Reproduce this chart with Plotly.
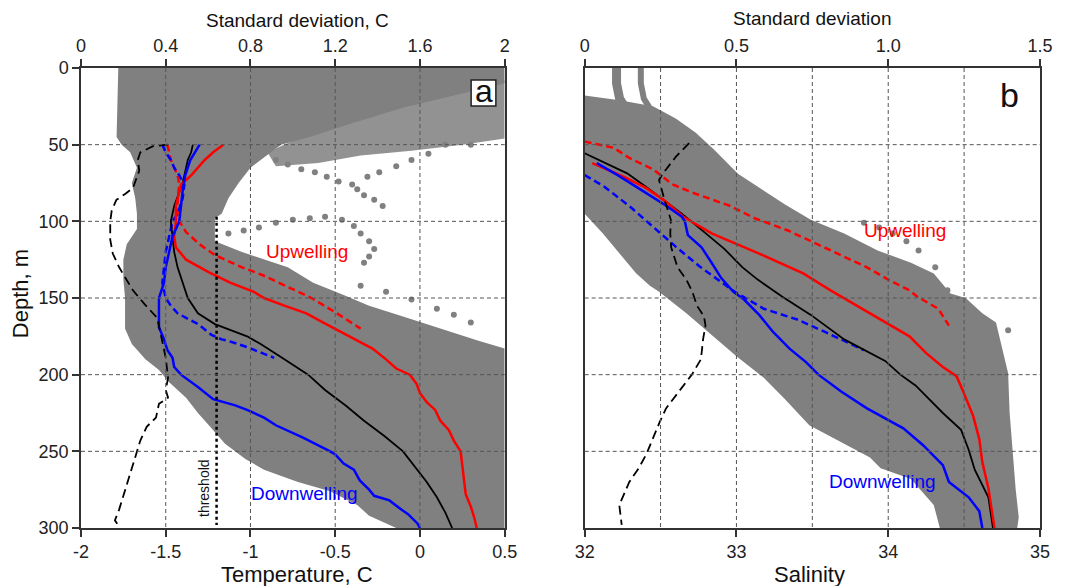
import plotly.graph_objects as go

FONT = "Liberation Sans, Arial, sans-serif"
GRAY = "rgb(128,128,128)"
RED = "#ff0000"
BLUE = "#0000ff"
BLACK = "#000000"

# ---------------- axis ticks ----------------
temp_ticks = [-2, -1.5, -1, -0.5, 0, 0.5]
temp_ticktext = ["-2", "-1.5", "-1", "-0.5", "0", "0.5"]
std_a_ticks = [0, 0.4, 0.8, 1.2, 1.6, 2]
std_a_ticktext = ["0", "0.4", "0.8", "1.2", "1.6", "2"]
sal_ticks = [32, 33, 34, 35]
sal_ticktext = ["32", "33", "34", "35"]
std_b_ticks = [0, 0.5, 1.0, 1.5]
std_b_ticktext = ["0", "0.5", "1.0", "1.5"]
depth_ticks = [0, 50, 100, 150, 200, 250, 300]
temp_grid = [-1.5, -1, -0.5, 0]
sal_grid = [32.5, 33, 33.5, 34, 34.5]
depth_grid = [50, 100, 150, 200, 250]

# ---------------- panel a : temperature ----------------
# gray cloud of all profiles (outline of the dense part)
cloud_a_T = [-1.78, 0.5, 0.5, 0.2, -0.1, -0.4, -0.65, -0.82, -0.88, -1.0, -1.07, -1.13, -1.17,
             -1.21, -1.21, -1.05, -0.78, -0.63, -0.45, -0.30, -0.10, 0.15, 0.35, 0.5, 0.5,
             -0.14, -0.30, -0.37, -0.53, -0.72, -0.92, -1.03, -1.15, -1.23, -1.31, -1.38,
             -1.48, -1.54, -1.62, -1.70, -1.74, -1.74, -1.75, -1.75, -1.73, -1.67, -1.67,
             -1.68, -1.70, -1.67, -1.71, -1.76, -1.79]
cloud_a_D = [0, 0, 10, 18, 26, 36, 45, 50, 55, 65, 75, 85, 95,
             98, 113, 120, 130, 140, 148, 155, 162, 171, 178, 183, 300,
             300, 292, 285, 276, 270, 262, 255, 245, 235, 225, 215,
             205, 197, 190, 180, 170, 150, 138, 125, 115, 105, 95,
             85, 75, 65, 55, 50, 45]
# sparse, speckled upper-right part
halo_a_T = [0.2, 0.5, 0.5, 0.25, -0.05, -0.35, -0.6, -0.85, -0.9, -0.7, -0.4, -0.1]
halo_a_D = [16, 8, 46, 50, 54, 57, 62, 64, 55, 45, 34, 24]
# isolated dotted profiles inside the gap
dots1_T = [0.30, 0.15, 0.05, -0.05, -0.14, -0.24, -0.31, -0.37, -0.33, -0.27, -0.22]
dots1_D = [50, 50, 56, 60, 64, 68, 71, 79, 83, 86, 90]
dots2_T = [-1.13, -1.04, -0.95, -0.85, -0.75, -0.65, -0.56, -0.46]
dots2_D = [108, 106, 104, 101, 99, 98, 97, 99]
dots3_T = [-0.39, -0.35, -0.30, -0.27, -0.30, -0.33]
dots3_D = [103, 108, 113, 118, 123, 127]
dots4_T = [-0.35, -0.2, -0.05, 0.1, 0.2, 0.3]
dots4_D = [142, 146, 151, 157, 161, 166]
dots5_T = [-0.85, -0.78, -0.70, -0.62, -0.55, -0.48, -0.40]
dots5_D = [60, 63, 66, 68, 71, 74, 76]

# mean profiles
mean_D = [50, 55, 60, 75, 90, 100, 110, 120, 130, 140, 150, 160, 167, 175, 180, 190, 200,
          210, 220, 230, 240, 250, 260, 270, 280, 290, 300]
mean_T = [-1.34, -1.35, -1.37, -1.40, -1.45, -1.47, -1.46, -1.45, -1.43, -1.40, -1.37, -1.31,
          -1.21, -1.02, -0.94, -0.80, -0.66, -0.56, -0.44, -0.33, -0.21, -0.10, -0.03, 0.04,
          0.10, 0.15, 0.19]

up_D = [50, 55, 60, 65, 70, 76, 90, 100, 110, 117, 125, 133, 140, 146, 150, 155, 160, 166, 172,
        178, 183, 190, 196, 200, 206, 212, 218, 223, 230, 236, 243, 250, 260, 269, 278, 286,
        293, 300]
up_T = [-1.16, -1.22, -1.27, -1.31, -1.35, -1.41, -1.44, -1.44, -1.45, -1.44, -1.38, -1.25,
        -1.12, -0.98, -0.92, -0.80, -0.67, -0.57, -0.47, -0.37, -0.28, -0.20, -0.14, -0.06,
        -0.02, 0.0, 0.04, 0.09, 0.12, 0.17, 0.20, 0.24, 0.25, 0.26, 0.27, 0.30, 0.32, 0.335]

up_d_D = [50, 55, 60, 65, 70, 76, 85, 95, 100, 107, 115, 122, 130, 135, 140, 150, 160, 170]
up_d_T = [-1.49, -1.48, -1.47, -1.45, -1.43, -1.42, -1.43, -1.43, -1.42, -1.38, -1.30, -1.21,
          -1.05, -0.93, -0.83, -0.64, -0.49, -0.35]

down_D = [50, 55, 60, 70, 80, 90, 100, 110, 120, 130, 140, 147, 150, 160, 169, 177, 184, 189,
          195, 200, 204, 208, 216, 220, 223, 228, 233, 241, 250, 252, 258, 262, 269, 275, 279,
          282, 288, 291, 297, 300]
down_T = [-1.30, -1.33, -1.355, -1.385, -1.40, -1.41, -1.42, -1.46, -1.48, -1.50, -1.51, -1.53,
          -1.54, -1.54, -1.54, -1.51, -1.49, -1.46, -1.45, -1.41, -1.36, -1.31, -1.22, -1.09,
          -1.02, -0.92, -0.85, -0.69, -0.53, -0.50, -0.45, -0.39, -0.355, -0.30, -0.27, -0.18,
          -0.11, -0.07, -0.015, 0.0]

down_d_D = [50, 55, 60, 65, 70, 76, 85, 95, 100, 110, 120, 130, 140, 150, 155, 160, 167, 174,
            177, 178, 182, 186, 189]
down_d_T = [-1.52, -1.50, -1.47, -1.45, -1.42, -1.39, -1.40, -1.43, -1.46, -1.48, -1.50, -1.51,
            -1.52, -1.50, -1.47, -1.43, -1.31, -1.23, -1.17, -1.13, -1.02, -0.93, -0.86]

std_a_D = [50, 51, 55, 60, 67, 73, 78, 82, 86, 93, 100, 112, 121, 130, 137, 145, 154, 163, 178,
           189, 202, 210, 215, 219, 228, 234, 243, 249, 262, 275, 288, 295, 299]
std_a = [0.41, 0.34, 0.28, 0.268, 0.275, 0.26, 0.246, 0.21, 0.167, 0.145, 0.138, 0.138, 0.15,
         0.18, 0.21, 0.245, 0.30, 0.36, 0.383, 0.40, 0.411, 0.40, 0.411, 0.368, 0.354, 0.31,
         0.28, 0.267, 0.24, 0.21, 0.18, 0.16, 0.18]

threshold_T = [-1.2, -1.2]
threshold_D = [97, 298]

# ---------------- panel b : salinity ----------------
cloud_b_S = [32.0, 32.23, 32.45, 32.60, 32.73, 32.85, 33.01, 33.15, 33.32, 33.49, 33.71, 33.93,
             34.15, 34.30, 34.41, 34.51, 34.62, 34.71, 34.75, 34.79, 34.80, 34.82, 34.84, 34.86,
             34.85, 34.34, 34.30, 34.15, 33.95, 33.88, 33.71, 33.48, 33.32, 33.18, 33.0, 32.80,
             32.67, 32.49, 32.43, 32.34, 32.23, 32.12, 32.0]
cloud_b_D = [18, 21, 25, 33, 42, 53, 69, 78, 89, 99, 108, 119,
             127, 134, 147, 150, 160, 166, 182, 199, 225, 250, 275, 293,
             300, 300, 285, 268, 261, 254, 245, 233, 216, 202, 188, 171,
             160, 146, 142, 134, 121, 108, 95]
streak1_S = [32.21, 32.21, 32.23, 32.28]
streak1_D = [0, 10, 20, 28]
streak2_S = [32.37, 32.37, 32.39, 32.44]
streak2_D = [0, 10, 20, 28]
dots_b_S = [33.84, 33.94, 34.03, 34.12, 34.20, 34.31, 34.39, 34.60, 34.68, 34.79]
dots_b_D = [101, 104, 108, 113, 119, 130, 145, 167, 169, 171]

mean_b_D = [55.6, 62, 68.7, 78, 86, 95, 108, 118, 130, 138, 149, 161, 177, 191, 200, 207, 214,
            225, 236, 249, 262, 280, 300]
mean_b_S = [32.0, 32.14, 32.28, 32.41, 32.52, 32.64, 32.80, 32.92, 33.04, 33.14, 33.30, 33.49,
            33.71, 33.98, 34.08, 34.18, 34.25, 34.36, 34.48, 34.53, 34.57, 34.66, 34.69]

up_b_D = [62, 71, 78, 86, 97, 108, 121, 134, 145, 153, 162, 175, 186, 195, 201, 210, 227, 242,
          257, 274, 287, 300]
up_b_S = [32.05, 32.26, 32.40, 32.52, 32.65, 32.84, 33.15, 33.44, 33.62, 33.76, 33.92, 34.14,
          34.25, 34.36, 34.45, 34.49, 34.56, 34.60, 34.62, 34.66, 34.68, 34.70]

up_b_d_D = [48, 52, 59, 66, 76, 82, 90, 98, 106, 116, 130, 138, 145, 149, 157, 168]
up_b_d_S = [32.0, 32.19, 32.30, 32.45, 32.58, 32.73, 32.96, 33.12, 33.34, 33.56, 33.86, 34.0,
            34.14, 34.19, 34.33, 34.40]

down_b_D = [62, 70, 80, 90, 97, 100, 109, 117, 126, 137, 146, 151, 161, 172, 183, 192, 200, 211,
            222, 235, 246, 259, 270, 280, 289, 300]
down_b_S = [32.08, 32.22, 32.38, 32.54, 32.64, 32.66, 32.68, 32.77, 32.83, 32.90, 32.98, 33.05,
            33.15, 33.24, 33.35, 33.46, 33.54, 33.69, 33.86, 34.10, 34.23, 34.36, 34.40, 34.53,
            34.60, 34.62]

down_b_d_D = [69.8, 77.4, 90.5, 103.5, 116.5, 129.6, 140.5, 146, 157, 164, 172, 180, 184]
down_b_d_S = [32.0, 32.13, 32.30, 32.45, 32.60, 32.76, 32.91, 32.99, 33.18, 33.40, 33.58, 33.76,
              33.84]

std_b_D = [49, 58, 69, 73, 86, 99, 108, 117, 130, 138, 146, 155, 162, 168, 177, 190, 200, 211,
           222, 231, 241, 252, 261, 270, 285, 298]
std_b = [0.344, 0.30, 0.257, 0.245, 0.263, 0.284, 0.282, 0.285, 0.306, 0.335, 0.355, 0.37,
         0.393, 0.398, 0.39, 0.383, 0.353, 0.31, 0.268, 0.247, 0.225, 0.203, 0.178, 0.147,
         0.114, 0.122]

# ---------------- figure ----------------
fig = go.Figure()


def poly(x, y, xa, ya, color):
    fig.add_trace(go.Scatter(x=x, y=y, xaxis=xa, yaxis=ya, mode="lines", fill="toself",
                             fillcolor=color, line=dict(width=0, color=color),
                             hoverinfo="skip", showlegend=False))


def dots(x, y, xa, ya):
    fig.add_trace(go.Scatter(x=x, y=y, xaxis=xa, yaxis=ya, mode="markers",
                             marker=dict(size=6, color=GRAY), hoverinfo="skip",
                             showlegend=False))


def line(x, y, xa, ya, color, width, dash="solid"):
    fig.add_trace(go.Scatter(x=x, y=y, xaxis=xa, yaxis=ya, mode="lines",
                             line=dict(color=color, width=width, dash=dash),
                             hoverinfo="skip", showlegend=False))


# panel a
poly(cloud_a_T, cloud_a_D, "x", "y", GRAY)
poly(halo_a_T, halo_a_D, "x", "y", "rgba(128,128,128,0.86)")
for tx, dy in [(dots1_T, dots1_D), (dots2_T, dots2_D), (dots3_T, dots3_D), (dots4_T, dots4_D),
               (dots5_T, dots5_D)]:
    dots(tx, dy, "x", "y")
line(up_d_T, up_d_D, "x", "y", RED, 2.5, "7px,4px")
line(down_d_T, down_d_D, "x", "y", BLUE, 2.5, "7px,4px")
line(mean_T, mean_D, "x", "y", BLACK, 1.8)
line(up_T, up_D, "x", "y", RED, 2.5)
line(down_T, down_D, "x", "y", BLUE, 2.5)
line(threshold_T, threshold_D, "x", "y", BLACK, 2.5, "dot")
line(std_a, std_a_D, "x3", "y", BLACK, 1.8, "9px,5px")

# panel b
poly(cloud_b_S, cloud_b_D, "x2", "y2", GRAY)
line(streak1_S, streak1_D, "x2", "y2", GRAY, 9)
line(streak2_S, streak2_D, "x2", "y2", GRAY, 6)
dots(dots_b_S, dots_b_D, "x2", "y2")
line(up_b_d_S, up_b_d_D, "x2", "y2", RED, 2.5, "7px,4px")
line(down_b_d_S, down_b_d_D, "x2", "y2", BLUE, 2.5, "7px,4px")
line(mean_b_S, mean_b_D, "x2", "y2", BLACK, 1.8)
line(up_b_S, up_b_D, "x2", "y2", RED, 2.5)
line(down_b_S, down_b_D, "x2", "y2", BLUE, 2.5)
line(std_b, std_b_D, "x4", "y2", BLACK, 1.8, "9px,5px")

AX = "#333333"
tickfont = dict(family=FONT, size=18, color="#222222")
common = dict(showline=True, linecolor=AX, linewidth=1.5, showgrid=False, zeroline=False,
              tickfont=tickfont, tickcolor=AX, tickwidth=1.5, ticklen=7)

# the page body adds an 8px offset, so the figure is 8px smaller than the window
fig.update_layout(
    width=1057, height=578,
    margin=dict(l=73, r=13, t=60, b=58),
    paper_bgcolor="white", plot_bgcolor="white",
    showlegend=False,
    xaxis=dict(domain=[0, 0.4418], range=[-2, 0.5], anchor="y", tickmode="array",
               tickvals=temp_ticks, ticktext=temp_ticktext, ticks="outside", **common),
    xaxis3=dict(range=[0, 2], anchor="y", overlaying="x", side="top", tickmode="array",
                tickvals=std_a_ticks, ticktext=std_a_ticktext, ticks="outside", **common),
    yaxis=dict(domain=[0, 1], range=[300, 0], anchor="x", tickmode="array",
               tickvals=depth_ticks, ticks="outside", mirror=True, **common),
    xaxis2=dict(domain=[0.5252, 1], range=[32, 35], anchor="y2", tickmode="array",
                tickvals=sal_ticks, ticktext=sal_ticktext, ticks="outside", **common),
    xaxis4=dict(range=[0, 1.5], anchor="y2", overlaying="x2", side="top", tickmode="array",
                tickvals=std_b_ticks, ticktext=std_b_ticktext, ticks="outside", **common),
    yaxis2=dict(domain=[0, 1], range=[300, 0], anchor="x2", matches="y",
                showticklabels=False, ticks="", mirror=True,
                showline=True, linecolor=AX, linewidth=1.5, showgrid=False, zeroline=False),
)

# dashed grid lines drawn on top of the gray clouds
grid_style = dict(color="#555555", width=1, dash="4px,3px")
shapes = []
for v in temp_grid:
    shapes.append(dict(type="line", xref="x", yref="y", x0=v, x1=v, y0=0, y1=300,
                       line=grid_style, layer="above"))
for v in sal_grid:
    shapes.append(dict(type="line", xref="x2", yref="y2", x0=v, x1=v, y0=0, y1=300,
                       line=grid_style, layer="above"))
for v in depth_grid:
    shapes.append(dict(type="line", xref="x domain", yref="y", x0=0, x1=1, y0=v, y1=v,
                       line=grid_style, layer="above"))
    shapes.append(dict(type="line", xref="x2 domain", yref="y2", x0=0, x1=1, y0=v, y1=v,
                       line=grid_style, layer="above"))
# box around the panel letter a
shapes.append(dict(type="rect", xref="x", yref="y", x0=0.302, x1=0.448, y0=7.8, y1=24.8,
                   line=dict(color="#222222", width=1.5), fillcolor="white", layer="above"))
fig.update_layout(shapes=shapes)

ann = []


def text(t, x, y, size, color="#111111", xref="paper", yref="paper", angle=0):
    ann.append(dict(text=t, x=x, y=y, xref=xref, yref=yref, showarrow=False,
                    font=dict(family=FONT, size=size, color=color), textangle=angle,
                    xanchor="center", yanchor="middle"))


text("Standard deviation, C", 0.2255, 1.104, 19)
text("Standard deviation", 0.7626, 1.107, 19)
text("Temperature, C", 0.225, -0.1, 22)
text("Salinity", 0.7595, -0.1, 22)
text("Depth, m", -0.0628, 0.51, 22, angle=-90)
text("Upwelling", -0.665, 119.8, 19, RED, "x", "y")
text("Downwelling", -0.681, 277.4, 19, BLUE, "x", "y")
text("Upwelling", 34.108, 106.1, 19, RED, "x2", "y2")
text("Downwelling", 33.96, 269.8, 19, BLUE, "x2", "y2")
text("threshold", -1.27, 274.1, 14, "#111111", "x", "y", angle=-90)
text("a", 0.375, 14.8, 32, "#111111", "x", "y")
text("b", 34.80, 17.6, 34, "#111111", "x2", "y2")
fig.update_layout(annotations=ann)

fig.write_html("out.html")
